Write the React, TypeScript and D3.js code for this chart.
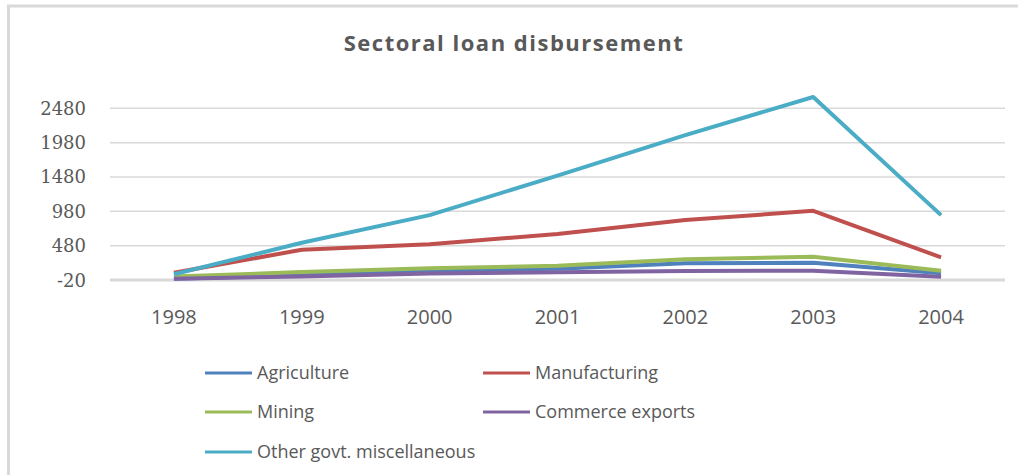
import React from "react";
import * as d3 from "d3";

const years = ["1998", "1999", "2000", "2001", "2002", "2003", "2004"];
const agriculture = [0, 50, 110, 145, 223, 231, 77];
const manufacturing = [86, 420, 500, 650, 852, 987, 310];
const mining = [30, 96, 150, 188, 281, 319, 115];
const commerceExports = [0, 30, 75, 92, 110, 115, 28];
const otherGovt = [63, 522, 925, 1500, 2090, 2644, 925];
const yTicks = [-20, 480, 980, 1480, 1980, 2480];

const seriesNames = ["Agriculture", "Manufacturing", "Mining", "Commerce exports", "Other govt. miscellaneous"];
const seriesValues = [agriculture, manufacturing, mining, commerceExports, otherGovt];
const seriesColors = ["#4F81BD", "#C0504D", "#9BBB59", "#8064A2", "#4BACC6"];

const W = 1018;
const H = 475;

export default function App() {
  const x = d3.scaleBand<string>().domain(years).range([110, 1005]);
  const y = d3.scaleLinear().domain([-20, 2480]).range([280, 108.3]);
  const line = d3
    .line<number>()
    .x((_, i) => (x(years[i]) as number) + x.bandwidth() / 2)
    .y((v) => y(v));

  const legendPos = [
    { lx: 205, ly: 373 },
    { lx: 483, ly: 373 },
    { lx: 205, ly: 412 },
    { lx: 483, ly: 412 },
    { lx: 205, ly: 452 },
  ];

  return (
    <svg
      width={W}
      height={H}
      style={{ position: "absolute", left: 0, top: 0, background: "#fff" }}
    >
      <rect x={8.5} y={6} width={1030} height={500} fill="#fff" stroke="#d9d9d9" strokeWidth={3} />
      <text
        x={514}
        y={51}
        textAnchor="middle"
        fontFamily="'Open Sans', 'DejaVu Sans', sans-serif"
        fontWeight="bold"
        fontSize={22}
        letterSpacing={1.5}
        fill="#595959"
      >
        Sectoral loan disbursement
      </text>
      {yTicks.map((t) => (
        <g key={t}>
          <line
            x1={110}
            x2={1005}
            y1={y(t)}
            y2={y(t)}
            stroke="#d9d9d9"
            strokeWidth={t === -20 ? 3 : 1.5}
          />
          <text
            x={86}
            y={y(t) + 6.5}
            textAnchor="end"
            fontFamily="'DejaVu Serif', serif"
            fontSize={18}
            fill="#595959"
          >
            {t}
          </text>
        </g>
      ))}
      {years.map((yr) => (
        <text
          key={yr}
          x={(x(yr) as number) + x.bandwidth() / 2}
          y={324}
          textAnchor="middle"
          fontFamily="'Open Sans', 'DejaVu Sans', sans-serif"
          fontSize={20}
          fill="#595959"
        >
          {yr}
        </text>
      ))}
      {seriesValues.map((vals, i) => (
        <path
          key={seriesNames[i]}
          d={line(vals) || ""}
          fill="none"
          stroke={seriesColors[i]}
          strokeWidth={4}
          strokeLinejoin="round"
        />
      ))}
      {seriesNames.map((n, i) => (
        <g key={n}>
          <line
            x1={legendPos[i].lx}
            x2={legendPos[i].lx + 47}
            y1={legendPos[i].ly}
            y2={legendPos[i].ly}
            stroke={seriesColors[i]}
            strokeWidth={3}
          />
          <text
            x={legendPos[i].lx + 52}
            y={legendPos[i].ly + 6}
            fontFamily="'Open Sans', 'DejaVu Sans', sans-serif"
            fontSize={18}
            fill="#595959"
          >
            {n}
          </text>
        </g>
      ))}
    </svg>
  );
}
